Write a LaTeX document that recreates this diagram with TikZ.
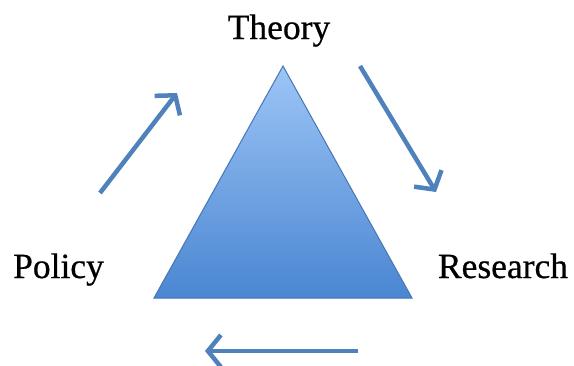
\documentclass[tikz,border=0pt]{standalone}
\usepackage{fontspec}
\setmainfont[FakeBold=0.6]{Liberation Serif}
\usetikzlibrary{arrows.meta}
\definecolor{arrowblue}{HTML}{4F81BD}
\definecolor{tritop}{HTML}{9DC5F6}
\definecolor{tribot}{HTML}{4A86D2}
\definecolor{triedge}{HTML}{4676B4}
\tikzset{
  flow/.style={draw=arrowblue, line width=4.5pt, -{Straight Barb[length=13pt,width=32pt,line width=4.5pt]}},
  label/.style={font=\fontsize{35.5}{40}\selectfont, inner sep=0pt, anchor=base}
}
\begin{document}
\begin{tikzpicture}[x=1pt,y=-1pt]
\useasboundingbox (0,0) rectangle (574,365);
\fill[white] (0,0) rectangle (574,365);
\coordinate (apex) at (283,66);
\coordinate (bl) at (154,298);
\coordinate (br) at (412,298);
\shade[top color=tritop, bottom color=tribot, draw=triedge, line width=1pt, line join=miter] (apex) -- (br) -- (bl) -- cycle;
\node[label] (theory) at (279,39) {Theory};
\node[label] (policy) at (58.5,278) {Policy};
\node[label] (research) at (503,278) {Research};
\coordinate (a1s) at (100,193);
\coordinate (a1e) at (177,93);
\coordinate (a2s) at (360,66);
\coordinate (a2e) at (436,192);
\coordinate (a3s) at (358,351);
\coordinate (a3e) at (205,351);
\draw[flow] (a1s) -- (a1e);
\draw[flow] (a2s) -- (a2e);
\draw[flow] (a3s) -- (a3e);
\end{tikzpicture}
\end{document}
